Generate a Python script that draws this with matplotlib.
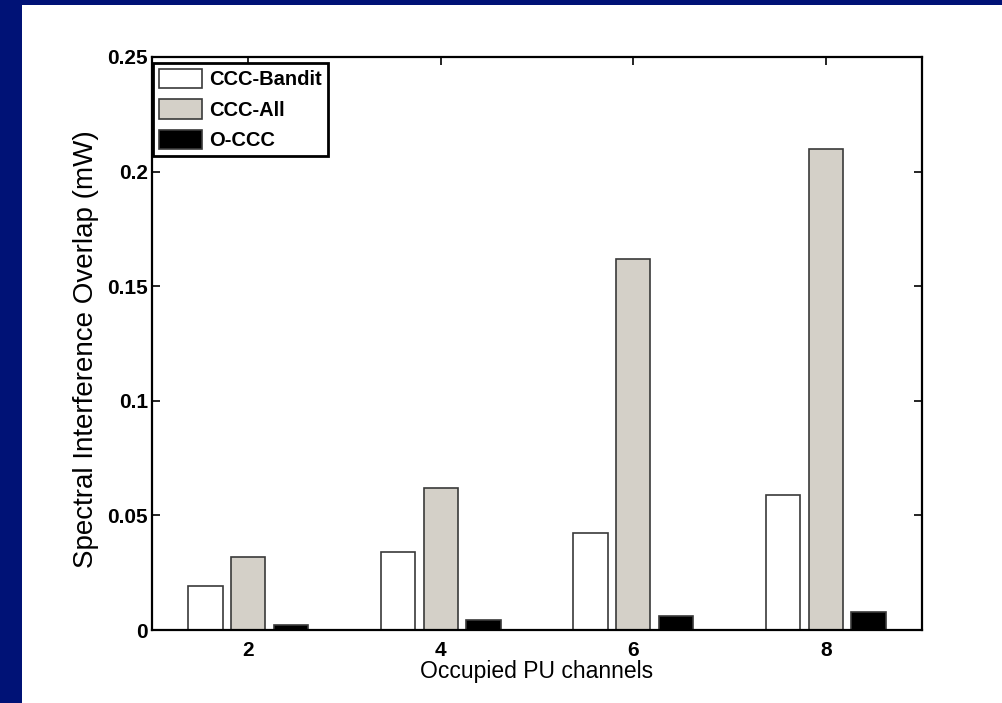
import numpy as np
import matplotlib
matplotlib.use('Agg')
import matplotlib.pyplot as plt
from matplotlib.patches import Rectangle

plt.rcParams['font.family'] = ['Liberation Sans', 'DejaVu Sans']

channels = [2, 4, 6, 8]
ccc_bandit = [0.019, 0.034, 0.0425, 0.059]
ccc_all = [0.032, 0.062, 0.162, 0.210]
o_ccc = [0.002, 0.0042, 0.006, 0.008]
series_names = ['CCC-Bandit', 'CCC-All', 'O-CCC']
y_ticks = [0, 0.05, 0.1, 0.15, 0.2, 0.25]
y_tick_labels = ['0', '0.05', '0.1', '0.15', '0.2', '0.25']

fig = plt.figure(figsize=(10.02, 7.03), dpi=100)
fig.patch.set_facecolor('#001276')
# white slide area (navy band on top and left)
fig.patches.append(Rectangle((22 / 1002, 0), 1, 698 / 703, transform=fig.transFigure,
                             facecolor='white', edgecolor='none', zorder=-5))

ax = fig.add_axes([152 / 1002, 73 / 703, 770 / 1002, 573 / 703])
ax.set_zorder(2)

x = np.array(channels, dtype=float)
slot = 2 * (3 / 4.5) / 3
width = 0.8 * slot
colors = ['white', '#d4d0c8', 'black']
for i, (vals, name, c) in enumerate(zip([ccc_bandit, ccc_all, o_ccc], series_names, colors)):
    ax.bar(x + (i - 1) * slot, vals, width, color=c, edgecolor='#3a3a3a',
           linewidth=1.2, label=name, zorder=2)

ax.set_xlim(1, 9)
ax.set_ylim(0, 0.25)
ax.set_xticks(channels)
ax.set_xticklabels([str(c) for c in channels], fontsize=15, fontweight='bold')
ax.set_yticks(y_ticks)
ax.set_yticklabels(y_tick_labels, fontsize=15, fontweight='bold')
ax.tick_params(direction='in', top=True, right=True, length=6, width=1.2)
ax.tick_params(axis='x', pad=8)
ax.tick_params(axis='y', pad=3)
for s in ax.spines.values():
    s.set_linewidth(1.6)

ax.set_xlabel('Occupied PU channels', fontsize=16.5)
ax.set_ylabel('Spectral Interference Overlap (mW)', fontsize=20)
ax.xaxis.set_label_coords(0.5, -0.053)
ax.yaxis.set_label_coords(-0.069, 0.49)

leg = ax.legend(loc='upper left', bbox_to_anchor=(0.0015, 0.99), borderaxespad=0,
                fancybox=False, framealpha=1, edgecolor='black',
                prop={'size': 14.5, 'weight': 'bold'},
                handlelength=2.15, handleheight=1.1, handletextpad=0.35,
                labelspacing=0.5, borderpad=0.3)
leg.get_frame().set_linewidth(2)

fig.savefig('out.png', dpi=100, facecolor=fig.get_facecolor())
